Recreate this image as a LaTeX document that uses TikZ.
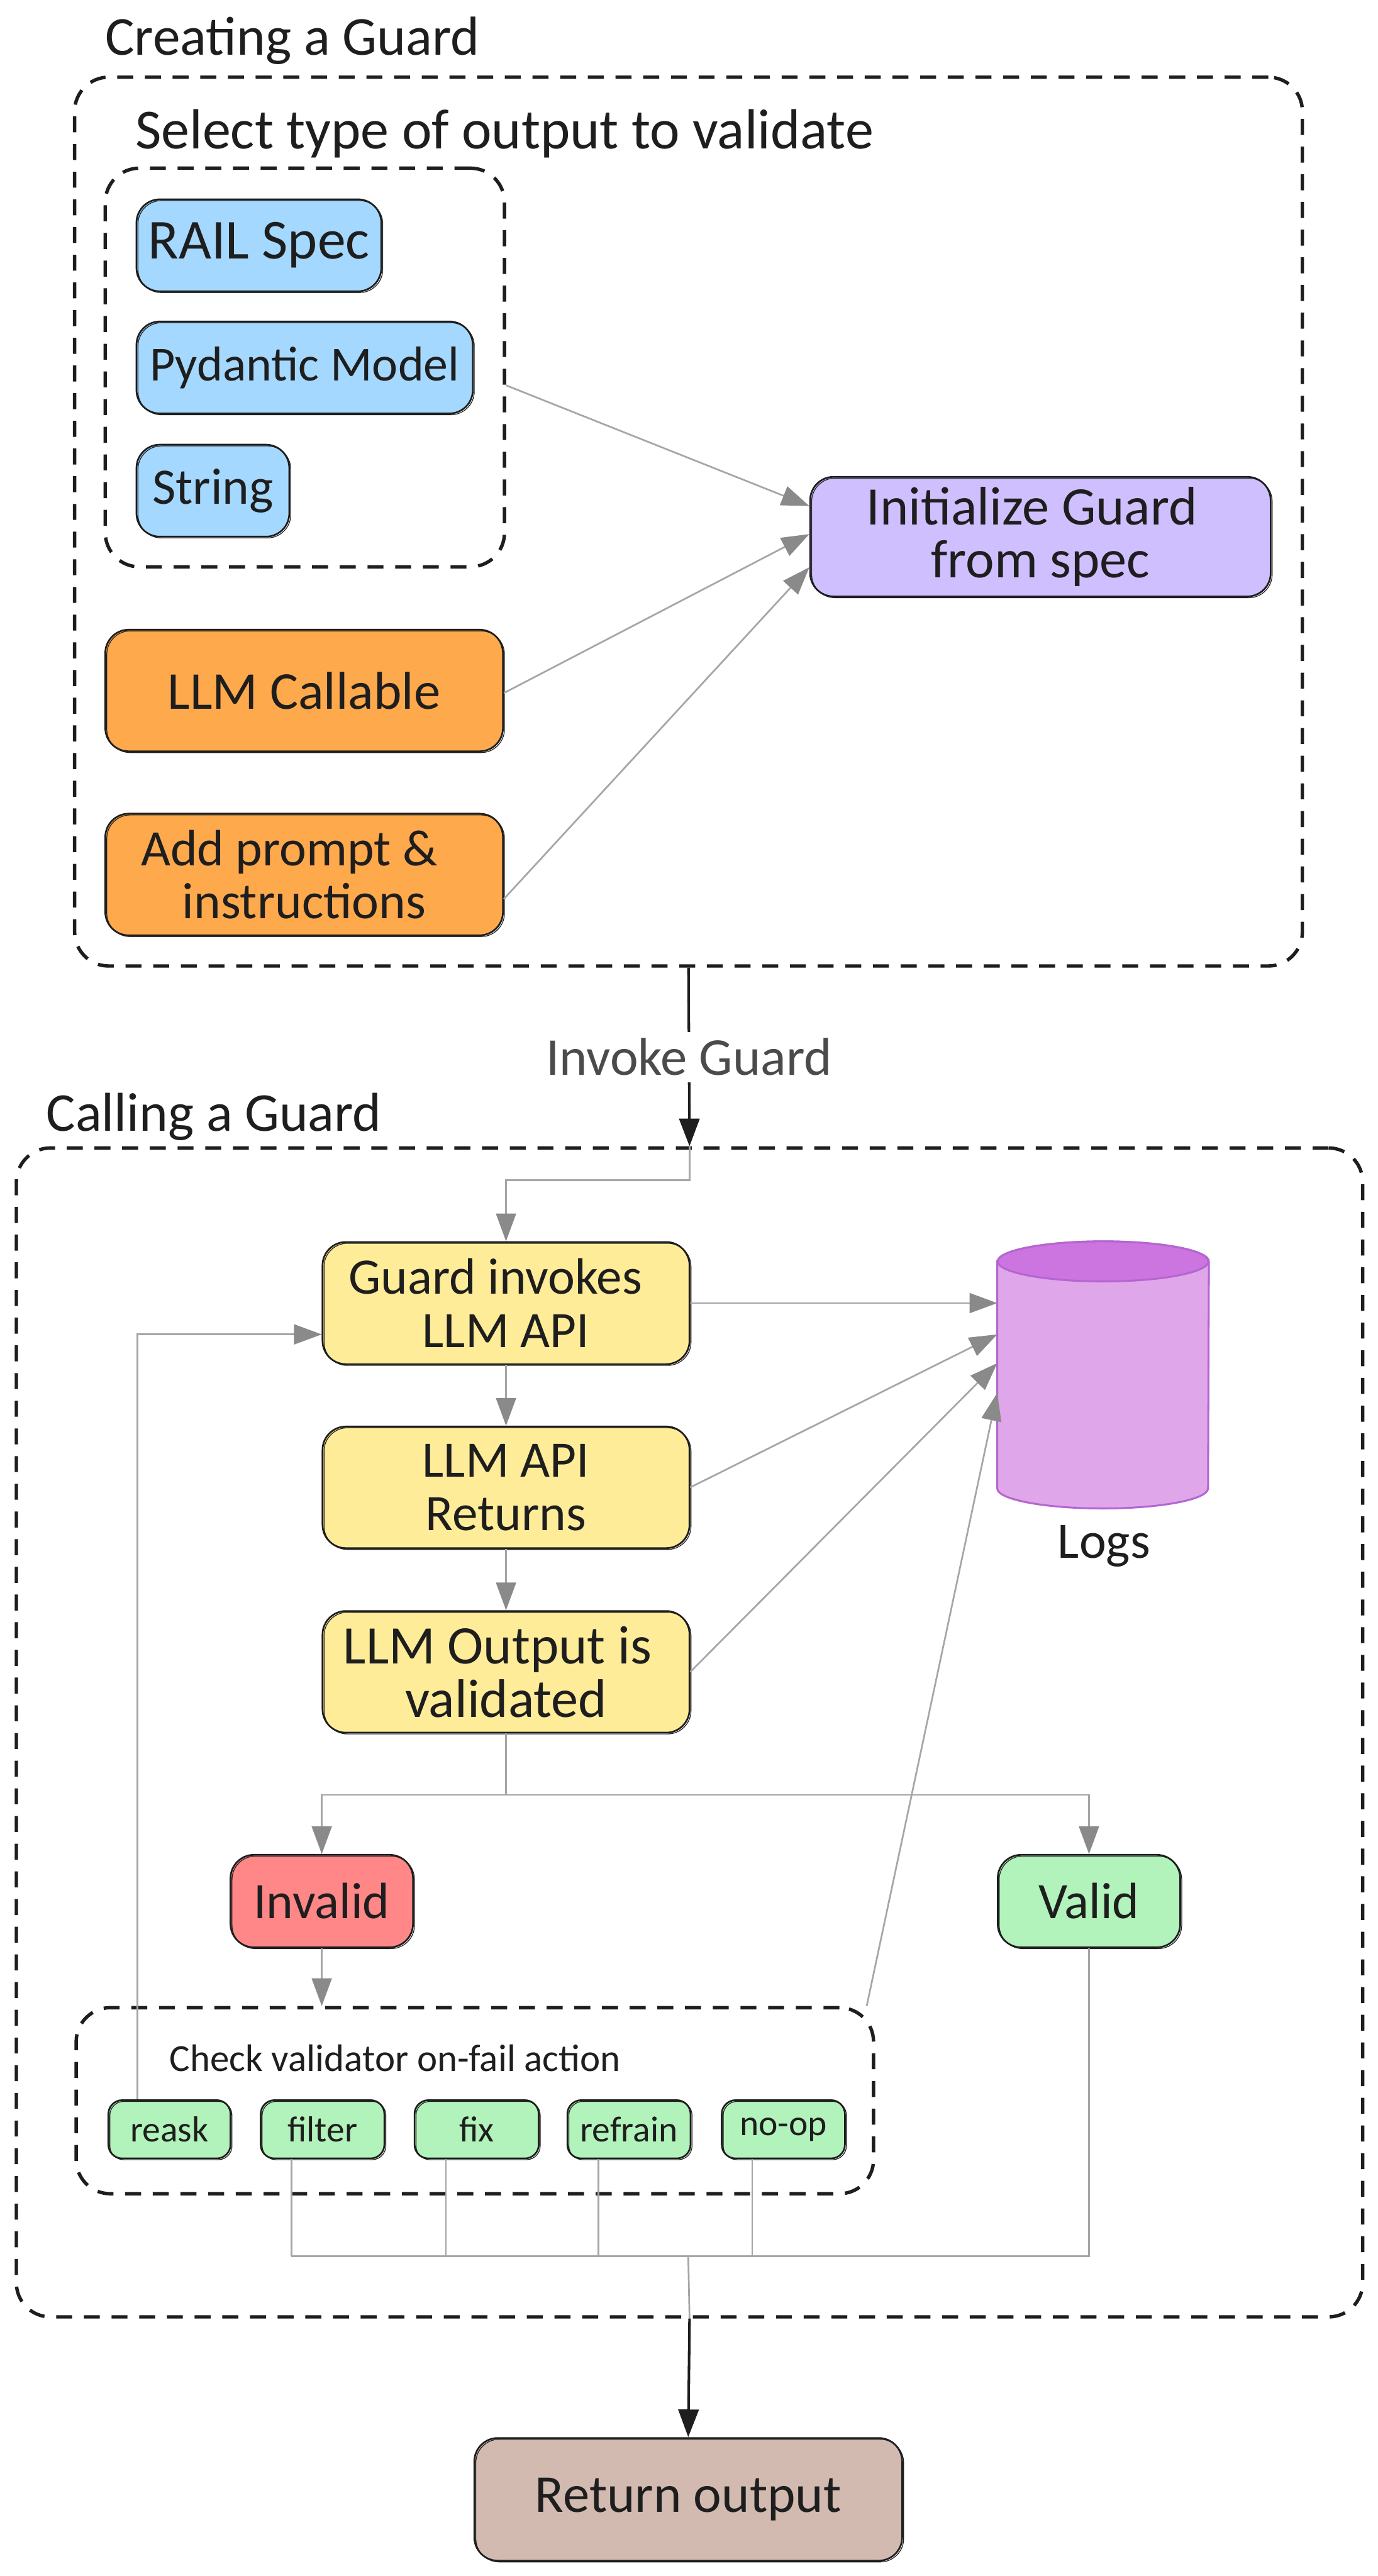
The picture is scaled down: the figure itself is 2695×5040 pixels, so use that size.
\documentclass[tikz,border=0pt]{standalone}
\usepackage{fontspec}
\setmainfont{Carlito}
\usetikzlibrary{arrows.meta}
\definecolor{ink}{HTML}{1E1E1E}
\definecolor{wire}{HTML}{A6A6A6}
\definecolor{wiretip}{HTML}{8A8A8A}
\definecolor{cBlue}{HTML}{A5D8FF}
\definecolor{cViolet}{HTML}{D0BFFF}
\definecolor{cOrange}{HTML}{FFA94D}
\definecolor{cYellow}{HTML}{FFEC99}
\definecolor{cGreen}{HTML}{B2F2BB}
\definecolor{cRed}{HTML}{FF8787}
\definecolor{cBrown}{HTML}{D2BAB0}
\definecolor{cBody}{HTML}{E0A6EA}
\definecolor{cTop}{HTML}{CC74E0}
\definecolor{cEdge}{HTML}{B565D0}
\newcommand{\fsz}[1]{\fontsize{#1}{25}\selectfont}
\tikzset{
  x=0.24pt,y=-0.24pt,
  solidbox/.style={draw=ink,line width=0.8pt,rounded corners=11pt,inner sep=0pt,align=center,text=ink,
    font=\fsz{24},
    postaction={draw=ink,line width=0.35pt,transform canvas={shift={(0.7pt,-0.6pt)}}}},
  tinybox/.style={solidbox,rounded corners=6.5pt,font=\fsz{17}},
  dashbox/.style={draw=ink,line width=1.6pt,rounded corners=16pt,dash pattern=on 7.5pt off 5.5pt,inner sep=0pt},
  wirearrow/.style={draw=wire,line width=0.8pt,-{Triangle[length=13pt,width=9.5pt,color=wiretip,fill=wiretip,line width=0.4pt]}},
  wireline/.style={draw=wire,line width=0.8pt},
  darkarrow/.style={draw=ink,line width=1.2pt,-{Triangle[length=13pt,width=9.5pt,color=ink,fill=ink]}},
  title/.style={anchor=west,inner sep=0pt,text=ink,font=\fsz{24}},
  cylpart/.style={draw=cEdge,line width=0.9pt},
}
\newcommand{\bxn}[7]{\node[#6,minimum width={(#4-#2)*0.24pt},minimum height={(#5-#3)*0.24pt}] (#1) at ({(#2+#4)/2},{(#3+#5)/2}) {#7};}
\begin{document}
\begin{tikzpicture}
\path[fill=white,use as bounding box] (0,0) rectangle (2695,5040);

% containers
\bxn{outer}{146}{151}{2548}{1890}{dashbox}{}
\bxn{inner}{206}{329}{987}{1109}{dashbox}{}
\bxn{calling}{32}{2246}{2666}{4533}{dashbox}{}
\bxn{check}{149}{3928}{1709}{4292}{dashbox}{}

% titles
\node[title,font=\fsz{25.8}] (tCreate) at (205,80) {Creating a Guard};
\node[title,font=\fsz{26.6}] (tSelect) at (264,262) {Select type of output to validate};
\node[title,font=\fsz{25.7}] (tCall) at (90,2185) {Calling a Guard};
\node[title,font=\fsz{18}] (tCheck) at (331,4027) {Check validator on-fail action};

% first part
\bxn{rail}{267}{390}{746}{570}{solidbox,fill=cBlue,font=\fsz{26.5}}{RAIL Spec}
\bxn{pyd}{267}{629}{925}{809}{solidbox,fill=cBlue,font=\fsz{23}}{Pydantic Model}
\bxn{str}{267}{870}{566}{1050}{solidbox,fill=cBlue}{String}
\bxn{llm}{206}{1232}{984}{1470}{solidbox,fill=cOrange,font=\fsz{25}}{LLM Callable}
\bxn{prompt}{206}{1592}{984}{1830}{solidbox,fill=cOrange}{\hspace*{-14pt}Add prompt \&\\instructions}
\bxn{init}{1585}{933}{2486}{1167}{solidbox,fill=cViolet,font=\fsz{25.5}}{\hspace*{-8pt}Initialize Guard\\from spec}

% second part
\bxn{guard}{631}{2430}{1349}{2669}{solidbox,fill=cYellow}{\hspace*{-10pt}Guard invokes\\LLM API}
\bxn{ret}{631}{2791}{1349}{3029}{solidbox,fill=cYellow}{LLM API\\Returns}
\bxn{val}{631}{3152}{1349}{3390}{solidbox,fill=cYellow,font=\fsz{25.5}}{\hspace*{-8pt}LLM Output is\\validated}
\bxn{invalid}{451}{3629}{808}{3810}{solidbox,fill=cRed}{Invalid}
\bxn{valid}{1952}{3629}{2309}{3810}{solidbox,fill=cGreen}{Valid}
\bxn{reask}{212}{4109}{451}{4223}{tinybox,fill=cGreen}{reask}
\bxn{filter}{510}{4109}{752}{4223}{tinybox,fill=cGreen}{filter}
\bxn{fix}{811}{4109}{1054}{4223}{tinybox,fill=cGreen}{fix}
\bxn{refrain}{1110}{4109}{1351}{4223}{tinybox,fill=cGreen}{refrain}
\bxn{noop}{1412}{4109}{1653}{4223}{tinybox,fill=cGreen}{no-op}
\bxn{retout}{928}{4770}{1765}{5010}{solidbox,fill=cBrown,font=\fsz{25}}{Return output}

% log store
\node[inner sep=0pt,minimum width=99pt,minimum height=125pt] (logs) at (2158,2690) {};
\path[cylpart,fill=cBody] ([yshift=-9.4pt]logs.north west) -- ([yshift=9.4pt]logs.south west)
  arc[start angle=180,end angle=360,x radius=49.5pt,y radius=9.4pt]
  -- ([yshift=-9.4pt]logs.north east)
  arc[start angle=0,end angle=180,x radius=49.5pt,y radius=9.4pt] -- cycle;
\path[cylpart,fill=cTop] ([yshift=-9.4pt]logs.north) ellipse [x radius=49.5pt,y radius=9.4pt];
\node[inner sep=0pt,text=ink,font=\fsz{24}] (logsText) at (2160,3025) {Logs};

% connectors: creating a guard
\draw[wirearrow] ([yshift=-8.4pt]inner.east) -- ([yshift=14.4pt]init.west);
\draw[wirearrow] ([yshift=-1.2pt]llm.east) -- ([yshift=1.2pt]init.west);
\draw[wirearrow] ([yshift=-11.5pt]prompt.east) -- ([yshift=-14.4pt]init.west);

% invoke
\draw[darkarrow] (outer.south) -- (calling.north)
  node[midway,fill=white,inner sep=3pt,text=ink!80,font=\fsz{25}] (invoke) {Invoke Guard};

% connectors: calling a guard
\draw[wirearrow] (calling.north) -- ++(0,66) -| (guard.north);
\draw[wirearrow] (guard.south) -- (ret.north);
\draw[wirearrow] (ret.south) -- (val.north);
\draw[wirearrow] (guard.east) -- (guard.east -| logs.west);
\draw[wirearrow] (ret.east) -- ([yshift=19pt]logs.west);
\draw[wirearrow] (val.east) -- ([yshift=5.5pt]logs.west);
\draw[wirearrow] ([xshift=-4pt]check.north east) -- ([yshift=-8.5pt]logs.west);
\coordinate (split) at ([yshift=-28.8pt]val.south);
\draw[wirearrow] (split) -| (invalid.north);
\draw[wirearrow] (split) -| (valid.north);
\draw[wireline] (val.south) -- (split);
\draw[wirearrow] (invalid.south) -- (invalid.south |- check.north);
\draw[wirearrow] ([xshift=-15.1pt]reask.north) |- ([yshift=-14.7pt]guard.west);

% merge to output
\coordinate (merge) at ([yshift=85pt]retout.north);
\draw[wireline] ([xshift=-14.6pt]filter.south) -- ([xshift=-14.6pt]filter.south |- merge);
\draw[wireline] ([xshift=-14.4pt]fix.south) -- ([xshift=-14.4pt]fix.south |- merge);
\draw[wireline] ([xshift=-14.4pt]refrain.south) -- ([xshift=-14.4pt]refrain.south |- merge);
\draw[wireline] ([xshift=-14.6pt]noop.south) -- ([xshift=-14.6pt]noop.south |- merge);
\draw[wireline] (valid.south) |- ([xshift=-14.6pt]filter.south |- merge);
\draw[wireline] (merge) -- (calling.south);
\draw[darkarrow] (calling.south) -- (retout.north);
\end{tikzpicture}
\end{document}
